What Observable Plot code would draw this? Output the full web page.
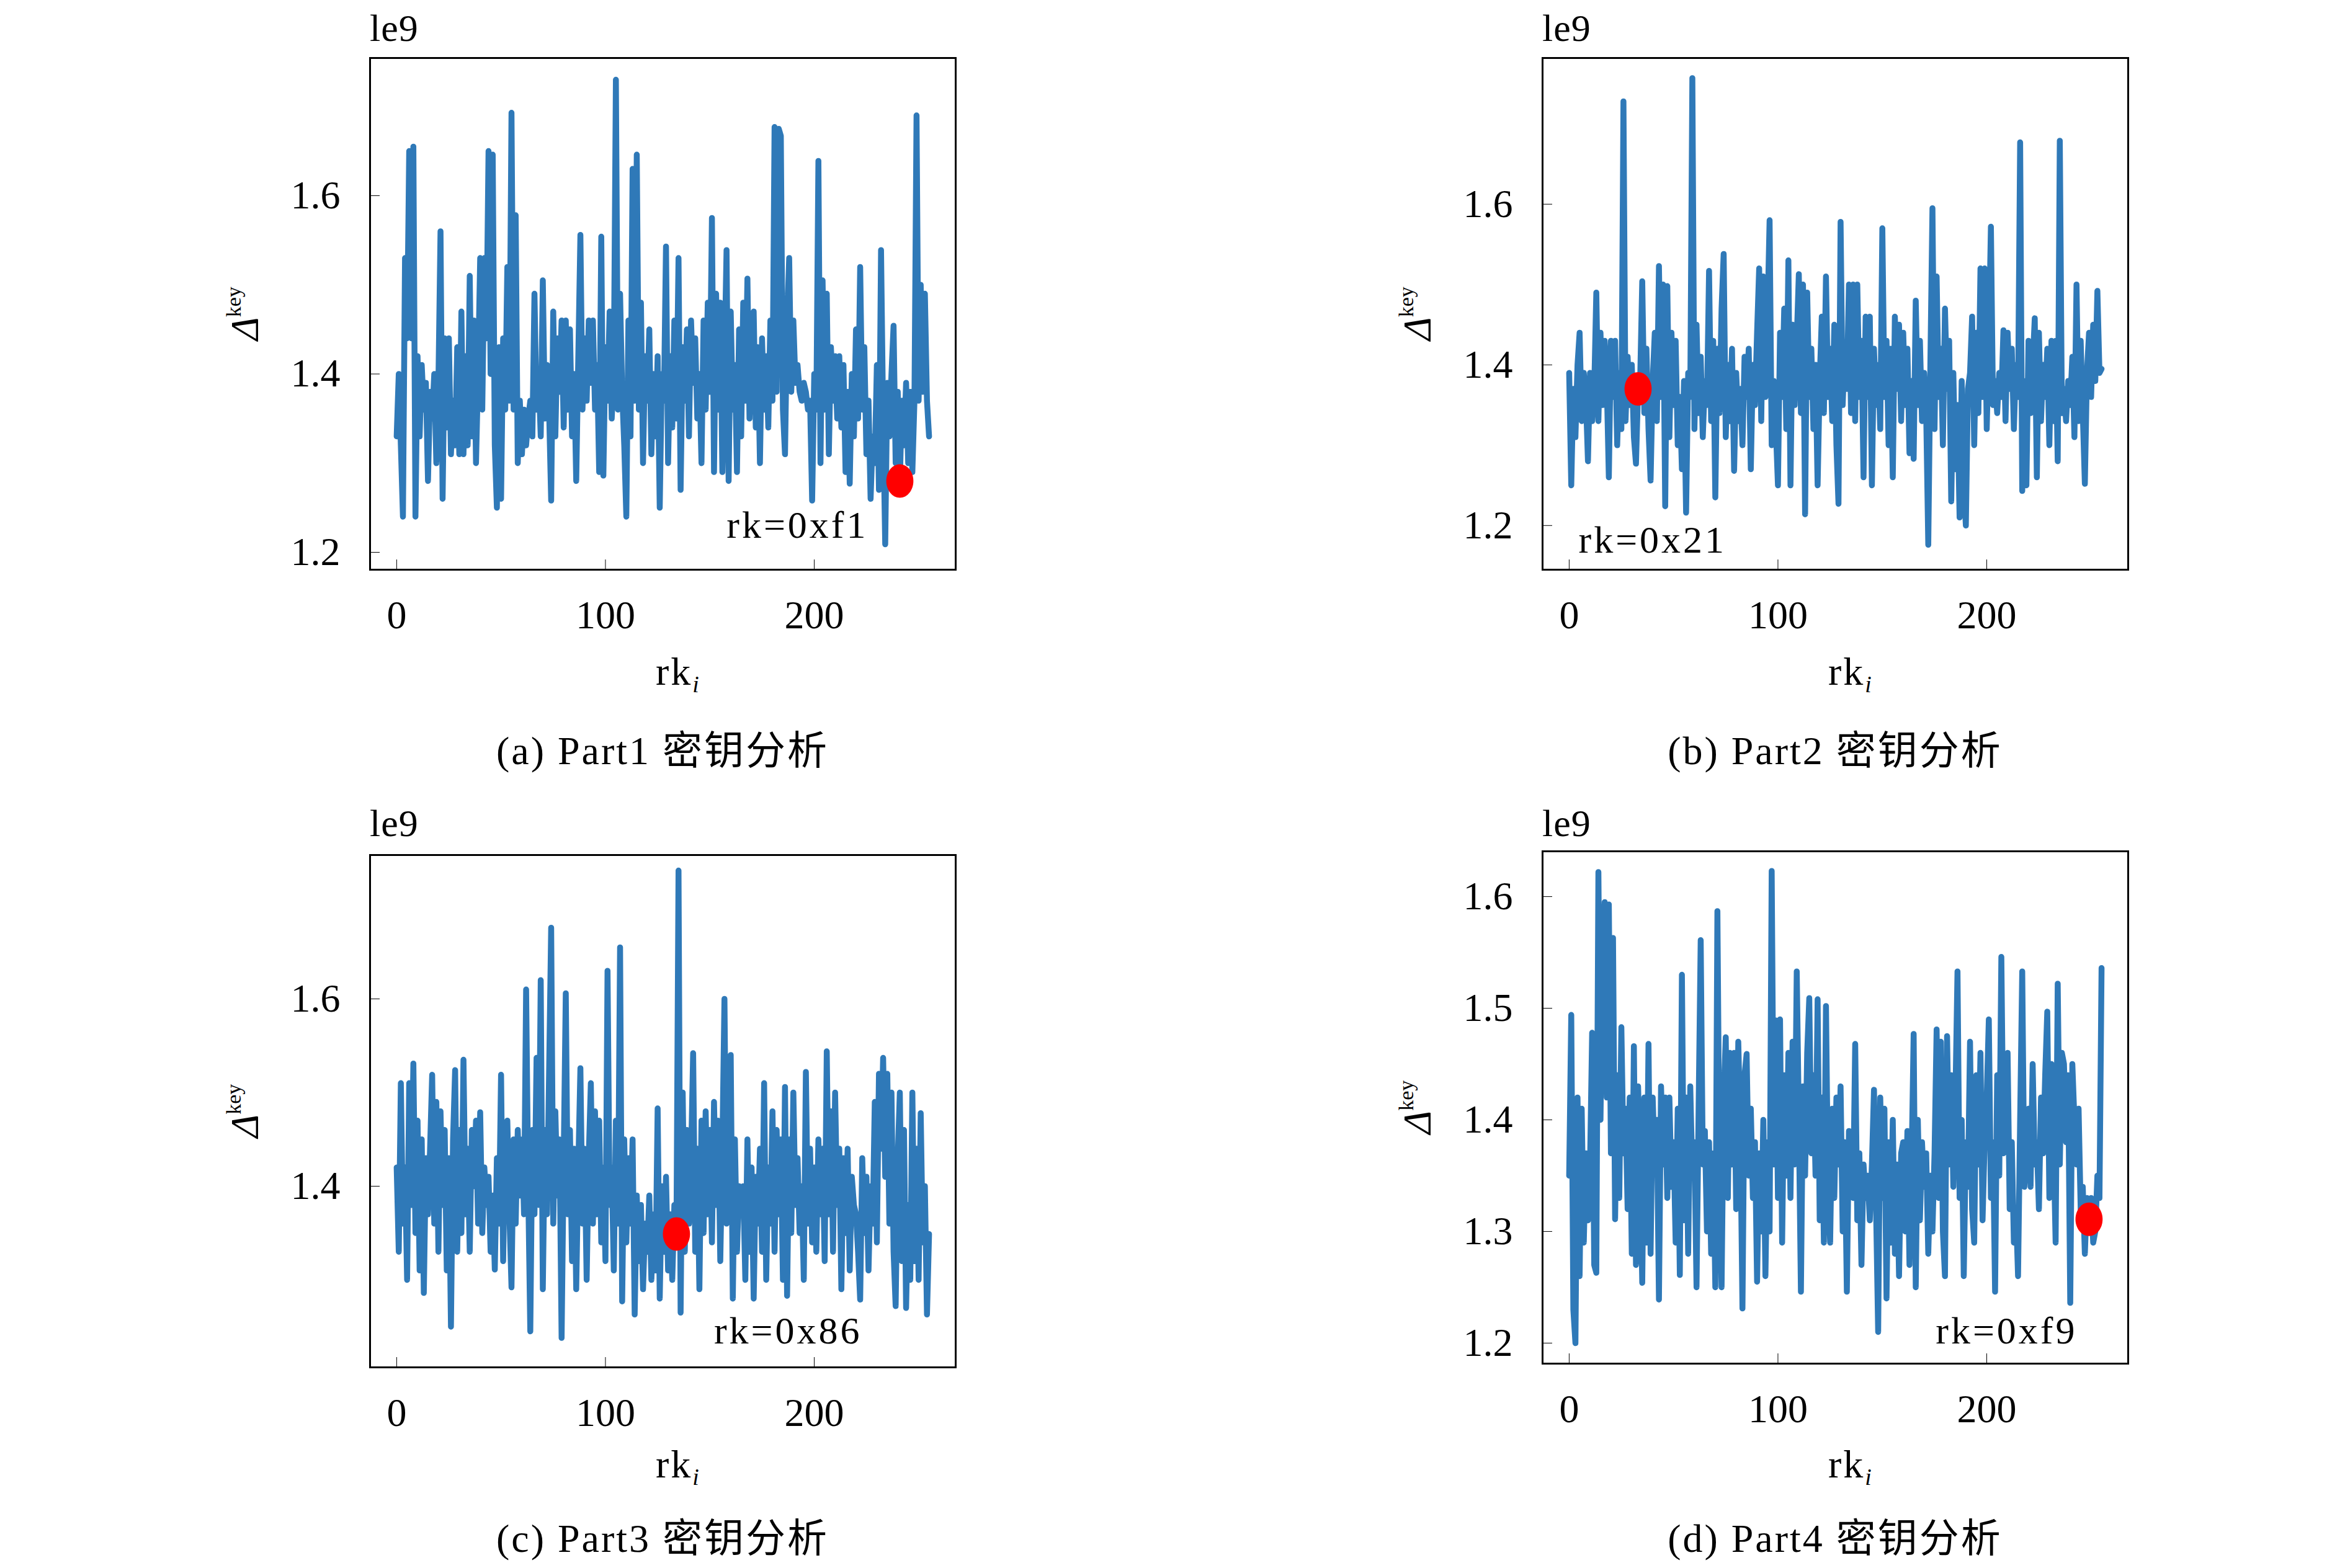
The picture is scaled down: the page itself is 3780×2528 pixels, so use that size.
<!DOCTYPE html>
<html><head><meta charset="utf-8">
<script src="https://cdn.jsdelivr.net/npm/d3@7"></script>
<script src="https://cdn.jsdelivr.net/npm/@observablehq/plot@0.6"></script>
<style>
html,body{margin:0;padding:0;background:#fff;}
#page{position:relative;width:3780px;height:2528px;background:#fff;overflow:hidden;}
.panel{position:absolute;}
.panel svg [aria-label*="axis"] line{stroke-width:3px;}
#overlay{position:absolute;left:0;top:0;}
</style></head>
<body><div id="page"></div>
<script>
// ---------------- data ----------------
const rkIndex = d3.range(256);
const xTicks = [0, 100, 200];
const yTicksA = [1.2, 1.4, 1.6];
const yTicksB = [1.2, 1.4, 1.6];
const yTicksC = [1.4, 1.6];
const yTicksD = [1.2, 1.3, 1.4, 1.5, 1.6];
const keyIndex = [0xf1, 0x21, 0x86, 0xf9];
const keyLabels = ["rk=0xf1", "rk=0x21", "rk=0x86", "rk=0xf9"];
const captions = ["(a) Part1 密钥分析", "(b) Part2 密钥分析", "(c) Part3 密钥分析", "(d) Part4 密钥分析"];
const offsetLabel = "le9";

const part1 = [
1.33,1.40,1.32,1.24,1.53,1.44,1.65,1.44,1.655,1.24,1.42,1.33,1.41,1.36,1.39,1.28,
1.38,1.35,1.40,1.30,1.39,1.56,1.26,1.44,1.34,1.44,1.31,1.37,1.32,1.43,1.31,1.47,
1.31,1.42,1.32,1.51,1.33,1.46,1.30,1.40,1.53,1.36,1.53,1.44,1.65,1.40,1.646,1.32,
1.25,1.43,1.26,1.44,1.36,1.52,1.37,1.693,1.36,1.578,1.30,1.37,1.31,1.36,1.32,1.35,
1.37,1.33,1.49,1.36,1.40,1.33,1.505,1.35,1.41,1.36,1.258,1.47,1.33,1.44,1.38,1.46,
1.34,1.46,1.36,1.45,1.33,1.40,1.28,1.42,1.556,1.36,1.44,1.37,1.46,1.39,1.46,1.36,
1.41,1.29,1.554,1.286,1.43,1.37,1.47,1.35,1.40,1.73,1.36,1.49,1.38,1.32,1.24,1.46,
1.33,1.63,1.37,1.646,1.36,1.48,1.30,1.42,1.37,1.45,1.31,1.40,1.33,1.42,1.25,1.40,
1.37,1.543,1.30,1.42,1.34,1.46,1.35,1.53,1.27,1.43,1.37,1.45,1.33,1.46,1.39,1.44,
1.35,1.40,1.30,1.46,1.36,1.48,1.38,1.575,1.29,1.49,1.36,1.48,1.29,1.41,1.539,1.28,
1.47,1.36,1.41,1.29,1.45,1.33,1.48,1.37,1.507,1.35,1.44,1.47,1.34,1.43,1.30,1.44,
1.36,1.42,1.34,1.46,1.37,1.677,1.38,1.675,1.667,1.36,1.31,1.46,1.53,1.38,1.46,1.39,
1.41,1.38,1.37,1.39,1.38,1.36,1.37,1.258,1.40,1.36,1.639,1.30,1.505,1.36,1.49,1.31,
1.43,1.37,1.42,1.35,1.42,1.34,1.41,1.29,1.38,1.277,1.40,1.33,1.45,1.35,1.52,1.36,
1.43,1.31,1.37,1.26,1.33,1.30,1.41,1.27,1.539,1.35,1.209,1.39,1.33,1.40,1.454,1.30,
1.38,1.28,1.37,1.32,1.39,1.30,1.38,1.29,1.37,1.69,1.37,1.50,1.38,1.49,1.37,1.33
];
const part2 = [
1.39,1.25,1.37,1.31,1.40,1.44,1.33,1.39,1.36,1.28,1.39,1.33,1.37,1.49,1.33,1.44,
1.35,1.43,1.38,1.26,1.43,1.36,1.43,1.30,1.39,1.32,1.728,1.33,1.41,1.35,1.40,1.31,
1.277,1.37,1.38,1.504,1.34,1.42,1.32,1.256,1.38,1.44,1.33,1.523,1.36,1.50,1.224,1.498,
1.31,1.44,1.35,1.43,1.30,1.36,1.27,1.38,1.216,1.39,1.36,1.757,1.32,1.45,1.34,1.41,
1.31,1.38,1.35,1.517,1.33,1.43,1.235,1.42,1.34,1.47,1.538,1.31,1.40,1.33,1.42,1.268,
1.39,1.33,1.37,1.30,1.41,1.36,1.42,1.27,1.40,1.35,1.44,1.52,1.33,1.51,1.36,1.46,
1.58,1.30,1.38,1.32,1.25,1.44,1.36,1.47,1.32,1.53,1.25,1.45,1.35,1.43,1.513,1.34,
1.50,1.214,1.49,1.36,1.42,1.32,1.40,1.25,1.38,1.46,1.34,1.51,1.36,1.42,1.33,1.45,
1.30,1.227,1.578,1.35,1.42,1.37,1.50,1.34,1.50,1.33,1.50,1.36,1.43,1.26,1.46,1.36,
1.46,1.25,1.42,1.35,1.40,1.32,1.57,1.36,1.43,1.30,1.42,1.26,1.46,1.37,1.45,1.33,
1.44,1.35,1.42,1.29,1.38,1.283,1.48,1.35,1.43,1.33,1.39,1.34,1.176,1.40,1.595,1.32,
1.51,1.36,1.42,1.30,1.47,1.37,1.43,1.23,1.39,1.27,1.35,1.21,1.38,1.25,1.20,1.37,
1.39,1.46,1.30,1.44,1.34,1.52,1.36,1.52,1.32,1.43,1.572,1.35,1.38,1.34,1.39,1.36,
1.443,1.33,1.44,1.37,1.42,1.32,1.40,1.36,1.677,1.243,1.38,1.25,1.43,1.34,1.40,1.458,
1.26,1.44,1.33,1.40,1.36,1.42,1.30,1.43,1.33,1.43,1.28,1.679,1.34,1.37,1.33,1.38,
1.35,1.41,1.31,1.50,1.33,1.43,1.34,1.252,1.39,1.44,1.36,1.45,1.38,1.492,1.39,1.395
];
const part3 = [
1.42,1.33,1.51,1.36,1.42,1.30,1.51,1.38,1.531,1.35,1.47,1.31,1.45,1.286,1.43,1.37,
1.44,1.519,1.36,1.49,1.33,1.48,1.38,1.46,1.31,1.43,1.25,1.45,1.524,1.33,1.46,1.35,
1.535,1.37,1.44,1.33,1.46,1.40,1.47,1.36,1.479,1.35,1.42,1.38,1.41,1.33,1.39,1.311,
1.43,1.36,1.519,1.32,1.45,1.47,1.37,1.292,1.45,1.36,1.46,1.39,1.45,1.37,1.61,1.40,
1.245,1.46,1.37,1.537,1.38,1.62,1.29,1.46,1.37,1.52,1.676,1.36,1.48,1.39,1.45,1.238,
1.43,1.606,1.37,1.46,1.32,1.44,1.29,1.42,1.526,1.36,1.44,1.30,1.43,1.51,1.36,1.48,
1.37,1.47,1.34,1.42,1.32,1.63,1.38,1.42,1.31,1.47,1.36,1.655,1.277,1.45,1.34,1.43,
1.36,1.45,1.263,1.39,1.32,1.38,1.29,1.36,1.33,1.39,1.30,1.37,1.31,1.483,1.28,1.40,
1.33,1.41,1.31,1.37,1.30,1.38,1.349,1.737,1.265,1.50,1.33,1.46,1.36,1.43,1.542,1.33,
1.44,1.29,1.47,1.35,1.48,1.37,1.46,1.34,1.49,1.38,1.47,1.32,1.44,1.60,1.36,1.49,
1.54,1.28,1.45,1.33,1.40,1.37,1.40,1.30,1.45,1.33,1.42,1.28,1.41,1.36,1.44,1.33,
1.51,1.30,1.42,1.36,1.48,1.33,1.46,1.37,1.45,1.30,1.506,1.283,1.45,1.35,1.50,1.38,
1.43,1.35,1.40,1.30,1.522,1.36,1.44,1.34,1.42,1.33,1.45,1.37,1.44,1.32,1.544,1.37,
1.48,1.33,1.50,1.38,1.44,1.29,1.43,1.35,1.44,1.31,1.41,1.38,1.37,1.33,1.279,1.43,
1.35,1.41,1.31,1.40,1.36,1.49,1.34,1.52,1.44,1.537,1.41,1.52,1.36,1.50,1.33,1.272,
1.43,1.50,1.32,1.46,1.27,1.38,1.30,1.50,1.32,1.44,1.30,1.478,1.34,1.40,1.263,1.349
];
const part4 = [
1.35,1.494,1.23,1.20,1.42,1.26,1.41,1.29,1.37,1.31,1.36,1.478,1.27,1.263,1.622,1.40,
1.55,1.595,1.42,1.593,1.37,1.563,1.311,1.44,1.33,1.483,1.37,1.41,1.32,1.42,1.28,1.466,
1.27,1.43,1.36,1.254,1.42,1.29,1.468,1.28,1.42,1.36,1.40,1.239,1.43,1.36,1.42,1.33,
1.42,1.34,1.38,1.29,1.41,1.261,1.53,1.31,1.42,1.28,1.43,1.35,1.38,1.25,1.41,1.561,
1.36,1.39,1.30,1.38,1.28,1.37,1.25,1.587,1.35,1.25,1.42,1.474,1.33,1.46,1.36,1.46,
1.32,1.47,1.39,1.231,1.44,1.459,1.35,1.41,1.33,1.38,1.255,1.37,1.30,1.40,1.26,1.38,
1.30,1.623,1.36,1.489,1.33,1.49,1.29,1.44,1.35,1.46,1.33,1.47,1.36,1.533,1.40,1.246,
1.43,1.35,1.46,1.509,1.37,1.44,1.35,1.508,1.31,1.42,1.29,1.502,1.34,1.29,1.41,1.33,
1.42,1.36,1.43,1.30,1.38,1.246,1.39,1.35,1.33,1.468,1.31,1.37,1.27,1.36,1.33,1.35,
1.31,1.36,1.427,1.32,1.21,1.42,1.33,1.41,1.24,1.38,1.29,1.40,1.28,1.36,1.26,1.37,
1.38,1.30,1.39,1.27,1.36,1.477,1.25,1.40,1.31,1.38,1.34,1.37,1.28,1.35,1.30,1.37,
1.481,1.33,1.47,1.30,1.26,1.475,1.36,1.44,1.34,1.42,1.533,1.33,1.40,1.26,1.38,1.34,
1.47,1.32,1.29,1.44,1.36,1.46,1.31,1.38,1.42,1.49,1.33,1.38,1.246,1.44,1.35,1.546,
1.37,1.43,1.46,1.32,1.38,1.29,1.32,1.26,1.40,1.533,1.34,1.37,1.41,1.34,1.45,1.36,
1.38,1.32,1.42,1.37,1.44,1.497,1.33,1.45,1.38,1.29,1.522,1.36,1.46,1.45,1.38,1.44,
1.236,1.45,1.40,1.36,1.41,1.32,1.34,1.28,1.33,1.311,1.33,1.29,1.30,1.35,1.33,1.536
];
const series = [part1, part2, part3, part4];
const yTicks = [yTicksA, yTicksB, yTicksC, yTicksD];

// ---------------- layout ----------------
const FONT = "'Liberation Serif','Times New Roman','DejaVu Serif','Noto Sans CJK SC',serif";
const FS = 64;
const BLUE = "#2f79b8";
const frames = [
  {L: 596,  T: 93,   R: 1540, B: 918,  y: [1.1805, 1.7544], row: 0, ann: "right", adx: -141, base: 866},
  {L: 2486, T: 93,   R: 3430, B: 918,  y: [1.145, 1.782],   row: 0, ann: "left",  adx: 58,   base: 890},
  {L: 596,  T: 1378, R: 1540, B: 2204, y: [1.2066, 1.7536], row: 1, ann: "right", adx: -151, base: 2165},
  {L: 2486, T: 1372, R: 3430, B: 2198, y: [1.1816, 1.6406], row: 1, ann: "right", adx: -82,  base: 2165}
];
const rows = [
  {le9: 66, xlab: 1104, cap: 1232},
  {le9: 1348, xlab: 2382, cap: 2502}
];
const mL = 180, mR = 20, mT = 20, mB = 130;
const hasAxisMarks = typeof Plot.axisTickX === "function";

const ellipse = {
  draw(context, size) {
    const r = Math.sqrt(size / Math.PI), rx = r * 0.81, ry = r, k = 0.5523;
    context.moveTo(rx, 0);
    context.bezierCurveTo(rx, ry * k, rx * k, ry, 0, ry);
    context.bezierCurveTo(-rx * k, ry, -rx, ry * k, -rx, 0);
    context.bezierCurveTo(-rx, -ry * k, -rx * k, -ry, 0, -ry);
    context.bezierCurveTo(rx * k, -ry, rx, -ry * k, rx, 0);
    context.closePath();
  }
};

const page = document.getElementById("page");

frames.forEach((f, p) => {
  const data = rkIndex.map(i => ({i, v: series[p][i]}));
  const key = [{i: keyIndex[p], v: series[p][keyIndex[p]]}];
  const W = (f.R - f.L) + mL + mR, H = (f.B - f.T) + mT + mB;
  const right = f.ann === "right";
  const marks = [
    Plot.line(data, {x: "i", y: "v", stroke: BLUE, strokeWidth: 9.5, strokeLinejoin: "round"}),
    Plot.dot(key, {x: "i", y: "v", r: 27, fill: "#ff0000", stroke: "none", symbol: ellipse}),
    Plot.frame({stroke: "#000", strokeWidth: 3}),
    Plot.text([keyLabels[p]], {
      text: d => d,
      frameAnchor: right ? "bottom-right" : "bottom-left",
      textAnchor: right ? "end" : "start",
      lineAnchor: "middle",
      dx: f.adx,
      dy: f.base - f.B - 0.32 * 62,
      fontSize: 62, fill: "#000"
    })
  ];
  let xOpt = {domain: [-12.75, 267.75], label: null};
  let yOpt = {domain: f.y, label: null};
  if (hasAxisMarks) {
    marks.push(
      Plot.axisTickX({ticks: xTicks, anchor: "bottom", tickSize: 16, dy: -16, strokeWidth: 3}),
      Plot.axisTextX({ticks: xTicks, anchor: "bottom", tickSize: 0, tickPadding: 49, fontSize: FS, tickFormat: d => String(d)}),
      Plot.axisTickY({ticks: yTicks[p], anchor: "left", tickSize: 16, dx: 16, strokeWidth: 3}),
      Plot.axisTextY({ticks: yTicks[p], anchor: "left", tickSize: 0, tickPadding: 48, fontSize: FS, tickFormat: d => d.toFixed(1)})
    );
  } else {
    xOpt = {...xOpt, axis: "bottom", ticks: xTicks, tickSize: -16, tickPadding: 65, tickFormat: d => String(d)};
    yOpt = {...yOpt, axis: "left", ticks: yTicks[p], tickSize: -16, tickPadding: 64, tickFormat: d => d.toFixed(1)};
  }
  const chart = Plot.plot({
    width: W, height: H,
    marginLeft: mL, marginRight: mR, marginTop: mT, marginBottom: mB,
    x: xOpt, y: yOpt,
    style: {fontFamily: FONT, fontSize: FS + "px", background: "transparent", overflow: "visible", color: "#000"},
    marks
  });
  d3.select(chart).selectAll("[aria-label*='axis'] text, g[aria-label*='axis']")
    .attr("font-size", FS).attr("font-family", FONT);
  d3.select(chart).selectAll("[aria-label='text'] text").attr("letter-spacing", 4);
  const div = document.createElement("div");
  div.className = "panel";
  div.style.left = (f.L - mL) + "px";
  div.style.top = (f.T - mT) + "px";
  div.appendChild(chart);
  page.appendChild(div);
});

// ---------------- overlay texts ----------------
const svg = d3.select(page).append("svg").attr("id", "overlay")
  .attr("width", 3780).attr("height", 2528)
  .style("font-family", FONT).style("pointer-events", "none");

frames.forEach((f, p) => {
  const r = rows[f.row];
  const cx = (f.L + f.R) / 2, cy = (f.T + f.B) / 2;
  svg.append("text").attr("x", f.L).attr("y", r.le9).attr("font-size", 62).attr("letter-spacing", 1).text(offsetLabel);
  const yl = svg.append("text")
    .attr("transform", `translate(${f.L - 180},${cy}) rotate(-90)`)
    .attr("text-anchor", "middle").attr("font-size", 64);
  yl.append("tspan").attr("font-style", "italic").text("Δ");
  yl.append("tspan").attr("font-size", 34).attr("dy", -28).text("key");
  const xl = svg.append("text").attr("x", f.L + 461).attr("y", r.xlab).attr("font-size", 64).attr("letter-spacing", 3);
  xl.append("tspan").text("rk");
  xl.append("tspan").attr("font-size", 38).attr("font-style", "italic").attr("dy", 12).text("i");
  svg.append("text").attr("x", cx).attr("y", r.cap).attr("text-anchor", "middle")
    .attr("font-size", 64).attr("letter-spacing", 3).text(captions[p]);
});
</script>
</body></html>
